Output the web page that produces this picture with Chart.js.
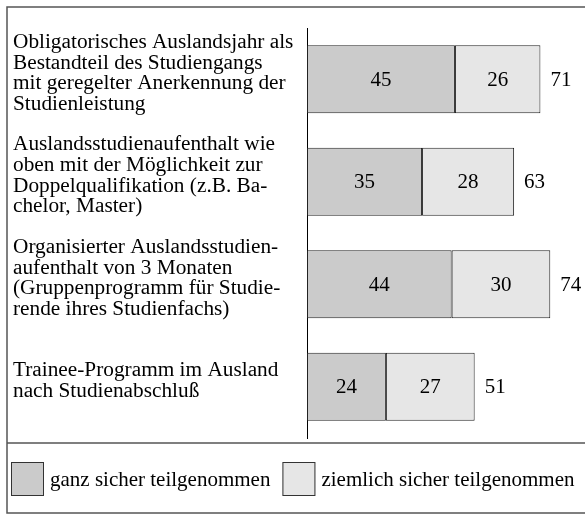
<!DOCTYPE html>
<html>
<head>
<meta charset="utf-8">
<script src="https://cdn.jsdelivr.net/npm/chart.js@4/dist/chart.umd.min.js"></script>
<style>
  html, body { margin: 0; padding: 0; background: #fff; }
  #wrap { width: 585px; height: 516px; position: relative; }
</style>
</head>
<body>
<div id="wrap"><canvas id="chart"></canvas></div>
<script>
'use strict';

const categories = [
    ['Obligatorisches Auslandsjahr als', 'Bestandteil des Studiengangs', 'mit geregelter Anerkennung der', 'Studienleistung'],
    ['Auslandsstudienaufenthalt wie', 'oben mit der Möglichkeit zur', 'Doppelqualifikation (z.B. Ba-', 'chelor, Master)'],
    ['Organisierter Auslandsstudien-', 'aufenthalt von 3 Monaten', '(Gruppenprogramm für Studie-', 'rende ihres Studienfachs)'],
    ['Trainee-Programm im Ausland', 'nach Studienabschluß']
];
const seriesNames = ['ganz sicher teilgenommen', 'ziemlich sicher teilgenommen'];
const ganzSicher = [45, 35, 44, 24];
const ziemlichSicher = [26, 28, 30, 27];
const seriesColors = ['#cbcbcb', '#e6e6e6'];

const FONT_FAMILY = '"Liberation Serif", "Times New Roman", serif';
const FONT = '21px ' + FONT_FAMILY;

// frame, value labels, totals and legend
const decorPlugin = {
    id: 'decor',
    beforeDraw(chart) {
        const ctx = chart.ctx;
        ctx.save();
        ctx.fillStyle = '#fff';
        ctx.fillRect(0, 0, chart.width, chart.height);
        ctx.restore();
    },
    afterDraw(chart) {
        const ctx = chart.ctx;
        const datasets = chart.data.datasets;
        ctx.save();

        ctx.strokeStyle = '#555';
        ctx.lineWidth = 1.5;
        ctx.strokeRect(7, 7, 600, 506);
        ctx.beginPath();
        ctx.moveTo(7, 443);
        ctx.lineTo(chart.width, 443);
        ctx.stroke();

        ctx.font = FONT;
        ctx.fillStyle = '#000';
        ctx.textBaseline = 'middle';

        datasets.forEach((ds, di) => {
            chart.getDatasetMeta(di).data.forEach((bar, i) => {
                const p = bar.getProps(['x', 'y', 'base'], true);
                ctx.textAlign = 'center';
                ctx.fillText(String(ds.data[i]), (p.x + p.base) / 2, p.y + 1);
            });
        });

        const lastMeta = chart.getDatasetMeta(datasets.length - 1);
        lastMeta.data.forEach((bar, i) => {
            const total = datasets.reduce((s, ds) => s + ds.data[i], 0);
            ctx.textAlign = 'left';
            ctx.fillText(String(total), bar.x + 10, bar.y + 1);
        });

        let x = 11;
        const boxY = 462;
        datasets.forEach(ds => {
            ctx.fillStyle = ds.backgroundColor;
            ctx.fillRect(x, boxY, 33, 34);
            ctx.strokeStyle = '#333';
            ctx.lineWidth = 1;
            ctx.strokeRect(x + 0.5, boxY + 0.5, 32, 33);
            ctx.fillStyle = '#000';
            ctx.textAlign = 'left';
            ctx.fillText(ds.label, x + 39, boxY + 18);
            x += 39 + ctx.measureText(ds.label).width + 12;
        });

        ctx.restore();
    }
};

function start() {
    const ctx = document.getElementById('chart').getContext('2d');

    new Chart(ctx, {
        type: 'bar',
        data: {
            labels: categories,
            datasets: [
                { label: seriesNames[0], data: ganzSicher, backgroundColor: seriesColors[0] },
                { label: seriesNames[1], data: ziemlichSicher, backgroundColor: seriesColors[1] }
            ].map(ds => Object.assign(ds, {
                borderColor: '#222',
                borderWidth: 1,
                borderSkipped: false,
                barPercentage: 0.663,
                categoryPercentage: 1
            }))
        },
        options: {
            indexAxis: 'y',
            responsive: true,
            maintainAspectRatio: false,
            animation: false,
            layout: { padding: { left: 13, top: 28, right: 15, bottom: 78 } },
            plugins: {
                legend: { display: false },
                tooltip: { enabled: false }
            },
            scales: {
                x: { stacked: true, display: false, min: 0, max: 80 },
                y: {
                    stacked: true,
                    grid: { display: false },
                    border: { display: true, color: '#000', width: 1 },
                    ticks: {
                        crossAlign: 'far',
                        labelOffset: -6,
                        color: '#000',
                        font: { family: FONT_FAMILY, size: 21.3, lineHeight: 0.97 }
                    },
                    afterFit(scale) {
                        scale.width = 294;
                    }
                }
            }
        },
        plugins: [decorPlugin]
    });
}

start();
</script>
</body>
</html>
